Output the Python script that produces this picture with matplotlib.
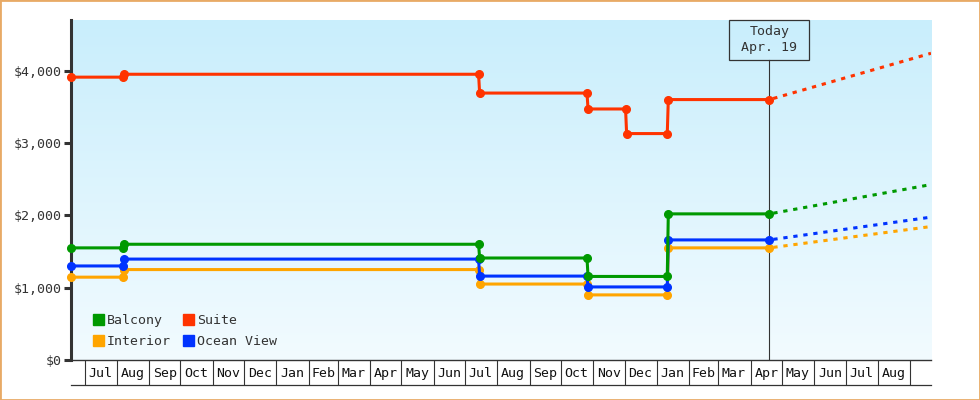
import datetime as dt
import numpy as np
import matplotlib
matplotlib.use("Agg")
from matplotlib import pyplot as plt
import matplotlib.dates as mdates
from matplotlib.patches import Patch, Rectangle
from matplotlib.colors import LinearSegmentedColormap
from matplotlib.ticker import FixedLocator, FuncFormatter

# time range of the chart
start = dt.date(2017, 6, 18)
end = dt.date(2019, 9, 21)
today = dt.date(2019, 4, 19)
today_label = "Today\nApr. 19"

# price change dates
common_dates = [dt.date(2017, 8, 7), dt.date(2018, 7, 14), dt.date(2018, 10, 26), dt.date(2019, 1, 11)]
suite_dates = [dt.date(2017, 8, 7), dt.date(2018, 7, 14), dt.date(2018, 10, 26), dt.date(2018, 12, 2), dt.date(2019, 1, 11)]

# prices (start value, then each change)
balcony = [1550, 1600, 1410, 1155, 2020]
interior = [1145, 1250, 1050, 900, 1550]
suite = [3910, 3950, 3690, 3470, 3130, 3600]
ocean_view = [1300, 1395, 1160, 1010, 1660]

# projected price at end of chart
proj = {"Balcony": 2425, "Interior": 1845, "Suite": 4240, "Ocean View": 1975}

colors = {"Balcony": "#009900", "Interior": "#ffa500", "Suite": "#ff3300", "Ocean View": "#0033ff"}

y_ticks = [0, 1000, 2000, 3000, 4000]
month_names = ["Jan", "Feb", "Mar", "Apr", "May", "Jun", "Jul", "Aug", "Sep", "Oct", "Nov", "Dec"]

plt.rcParams["font.family"] = ["DejaVu Sans Mono"]
plt.rcParams["font.size"] = 9.5
plt.rcParams["text.color"] = "#333333"


def step_points(dates, prices):
    xs, ys = [start], [prices[0]]
    for d, old, new in zip(dates, prices[:-1], prices[1:]):
        xs += [d, d + dt.timedelta(days=1)]
        ys += [old, new]
    xs.append(today)
    ys.append(prices[-1])
    return xs, ys


fig = plt.figure(figsize=(9.8, 4), dpi=100)
ax = fig.add_axes([71 / 980, 40 / 400, 860 / 980, 340 / 400])

# gradient background
cmap = LinearSegmentedColormap.from_list("bg", ["#c9eefc", "#f2fbff"])
ax.imshow(np.linspace(0, 1, 256).reshape(-1, 1), cmap=cmap, extent=[0, 1, 0, 1],
          transform=ax.transAxes, aspect="auto", zorder=0)

series = [("Interior", common_dates, interior), ("Ocean View", common_dates, ocean_view),
          ("Balcony", common_dates, balcony), ("Suite", suite_dates, suite)]
for i, (name, dates, prices) in enumerate(series):
    xs, ys = step_points(dates, prices)
    ax.plot(xs, ys, color=colors[name], lw=2.2, marker="o", ms=5.5, clip_on=False, zorder=3 + i)
    ax.plot([today, end], [prices[-1], proj[name]], color=colors[name], lw=2.2,
            ls=(2, (1.4, 1.9)), zorder=3 + i)

ax.set_xlim(start, end)
ax.set_ylim(0, 4700)

# y axis
ax.set_yticks(y_ticks)
ax.yaxis.set_major_formatter(FuncFormatter(lambda v, p: "${:,.0f}".format(v)))
ax.tick_params(axis="y", length=5, width=2.2, color="#333333", labelcolor="#333333", pad=2)
for s in ["top", "right"]:
    ax.spines[s].set_visible(False)
ax.spines["left"].set_linewidth(2.2)
ax.spines["left"].set_color("#333333")
ax.spines["bottom"].set_linewidth(1)
ax.spines["bottom"].set_color("#333333")

# x axis: month boxes
month_starts = []
d = dt.date(start.year, start.month, 1)
while d <= end:
    if d > start:
        month_starts.append(d)
    d = dt.date(d.year + (d.month == 12), d.month % 12 + 1, 1)
mids = [m + (n - m) / 2 for m, n in zip(month_starts[:-1], month_starts[1:])]
ax.xaxis.set_major_locator(FixedLocator(mdates.date2num(month_starts)))
ax.xaxis.set_minor_locator(FixedLocator(mdates.date2num(mids)))
ax.xaxis.set_major_formatter(FuncFormatter(lambda v, p: ""))
ax.xaxis.set_minor_formatter(FuncFormatter(lambda v, p: month_names[mdates.num2date(v).month - 1]))
ax.tick_params(axis="x", which="major", length=18, width=0.8, color="#333333")
ax.tick_params(axis="x", which="minor", length=0, pad=5, labelcolor="#111111")
ax.plot([start, end], [-25 / 340] * 2, color="#333333", lw=0.9, clip_on=False,
        transform=ax.get_xaxis_transform())

# today marker
ax.axvline(today, ymin=0, ymax=1 - 40 / 340, color="#333333", lw=0.8, zorder=2)
x_disp = ax.transData.transform((mdates.date2num(today), 0))[0]
top_disp = ax.transAxes.transform((0, 1))[1]
fig.patches.append(Rectangle(((x_disp - 40) / 980, (top_disp - 40) / 400), 80 / 980, 40 / 400,
                             transform=fig.transFigure, fill=False, ec="#333333", lw=0.9))
fig.text(x_disp / 980, (top_disp - 20) / 400, today_label, ha="center", va="center",
         linespacing=1.3, color="#333333")

# legend
handles = [Patch(color=colors[n]) for n in ["Balcony", "Interior", "Suite", "Ocean View"]]
labels = ["Balcony", "Interior", "Suite", "Ocean View"]
ax.legend(handles, labels, ncol=2, loc="lower left", bbox_to_anchor=(0.019, 0.02), frameon=False,
          handlelength=0.85, handleheight=0.85, handletextpad=0.2, columnspacing=0.95,
          labelspacing=0.6, borderaxespad=0)

# outer border
fig.patches.append(Rectangle((0, 0), 1, 1, transform=fig.transFigure, fill=False,
                             ec="#e8aa66", lw=2))

plt.savefig("out.png", dpi=100)
